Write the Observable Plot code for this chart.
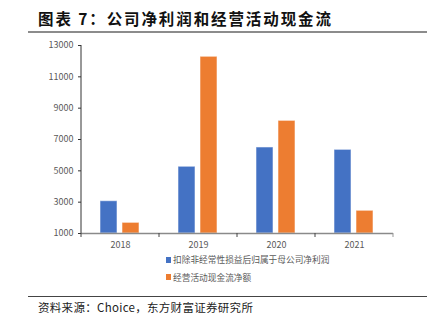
<!DOCTYPE html>
<html><head><meta charset="utf-8">
<script src="https://cdn.jsdelivr.net/npm/d3@7"></script>
<script src="https://cdn.jsdelivr.net/npm/@observablehq/plot@0.6"></script>
<style>
body{margin:0;background:#fff;width:433px;height:325px;position:relative;overflow:hidden;font-family:"Noto Sans CJK SC",sans-serif;}
#title{position:absolute;left:38px;top:8px;font-size:15.5px;font-weight:bold;color:#111;letter-spacing:1.9px;white-space:nowrap;line-height:20px}
#tline{position:absolute;left:28px;top:31px;width:399px;height:2px;background:#8c8c8c}
#chart{position:absolute;left:0;top:35px}
#legend{position:absolute;left:166px;top:251px;font-size:8.7px;color:#595959;line-height:17.5px}
#legend .item{display:flex;align-items:center;white-space:nowrap}
#legend .sw{width:5px;height:6px;margin-right:2px}
#fline{position:absolute;left:28px;top:296px;width:399px;height:1px;background:#444}
#source{position:absolute;left:38px;top:299px;font-size:11.5px;color:#222;white-space:nowrap;letter-spacing:0.3px;line-height:16px}
</style>
</head><body>
<div id="title">图表 7：公司净利润和经营活动现金流</div>
<div id="tline"></div>
<div id="chart"></div>
<div id="legend"></div>
<div id="fline"></div>
<div id="source">资料来源：Choice，东方财富证券研究所</div>
<script>
const years = ["2018", "2019", "2020", "2021"];
const series = ["扣除非经常性损益后归属于母公司净利润", "经营活动现金流净额"];
const netProfit = [3060, 5260, 6490, 6340];
const opCashFlow = [1680, 12280, 8190, 2450];
const yTicks = [1000, 3000, 5000, 7000, 9000, 11000, 13000];
const colors = ["#4472C4", "#ED7D31"];

const data = years.flatMap((y, i) => [
  {year: y, series: series[0], value: netProfit[i]},
  {year: y, series: series[1], value: opCashFlow[i]}
]);

const plot = Plot.plot({
  width: 433, height: 220,
  marginTop: 10, marginBottom: 22, marginLeft: 80, marginRight: 40,
  style: {fontFamily: "'Noto Sans CJK SC', sans-serif", fontSize: "9px", color: "#595959", background: "white"},
  fx: {domain: years, padding: 0, label: null},
  x: {domain: series, paddingInner: 0.21, paddingOuter: 0.85, axis: null},
  y: {domain: [1000, 13000], label: null},
  color: {domain: series, range: colors},
  marks: [
    Plot.barY(data, {fx: "year", x: "series", y1: 1000, y2: "value", fill: "series", stroke: "white", strokeOpacity: 0.55, strokeWidth: 1}),
    Plot.ruleY([1000], {stroke: "#8a8a8a", strokeWidth: 1.5}),
    Plot.axisY({ticks: yTicks, tickSize: 3, tickPadding: 5, tickFormat: d => String(d), label: null, stroke: "#333", fill: "#595959"}),
    Plot.axisFx({anchor: "bottom", tickSize: 0, tickPadding: 8, label: null, fill: "#595959"})
  ]
});
document.getElementById("chart").appendChild(plot);

// y axis line and category boundary ticks from the library's scales
const fx = plot.scale("fx");
const ys = plot.scale("y");
const svg = d3.select(plot);
const y0 = ys.apply(1000), y1 = ys.apply(13000);
const left = fx.apply(years[0]);
svg.append("line").attr("x1", left).attr("x2", left).attr("y1", y1).attr("y2", y0)
  .attr("stroke", "#333").attr("stroke-width", 1);
const edges = years.map(y => fx.apply(y)).concat([fx.apply(years[years.length - 1]) + fx.bandwidth]);
edges.forEach((x, i) => {
  svg.append("line").attr("x1", x).attr("x2", x).attr("y1", y0).attr("y2", y0 + 4)
    .attr("stroke", i === edges.length - 1 ? "#999" : "#444").attr("stroke-width", 1);
});

// legend
const color = plot.scale("color");
const lg = d3.select("#legend");
series.forEach(s => {
  const it = lg.append("div").attr("class", "item");
  it.append("div").attr("class", "sw").style("background", color.apply(s));
  it.append("span").text(s);
});
</script>
</body></html>
